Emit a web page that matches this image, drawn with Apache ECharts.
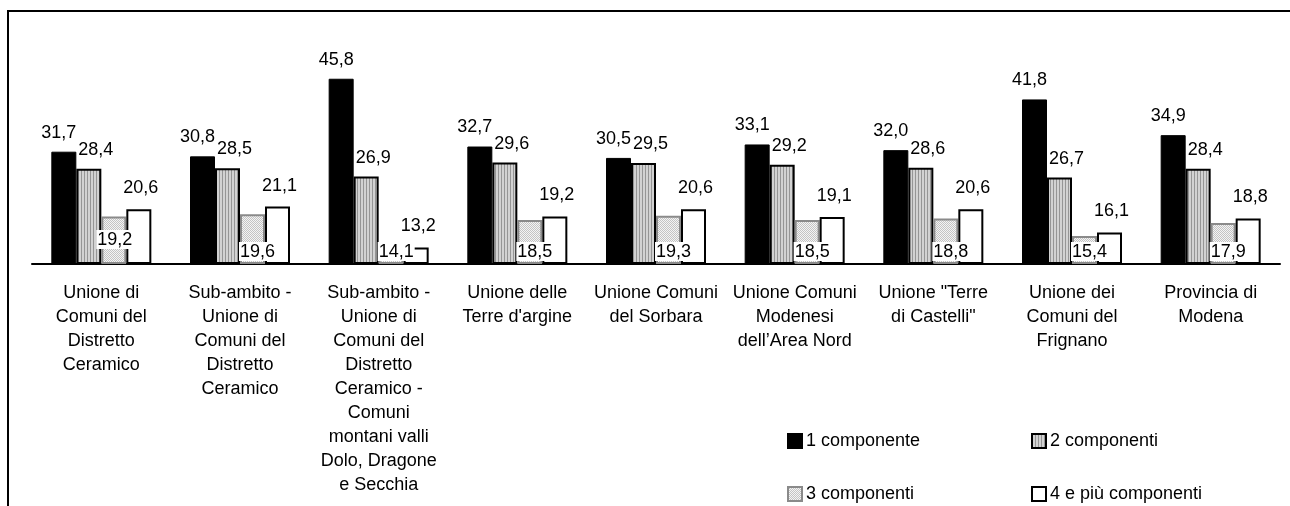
<!DOCTYPE html>
<html>
<head>
<meta charset="utf-8">
<script src="https://cdn.jsdelivr.net/npm/echarts@6/dist/echarts.min.js"></script>
<style>
    html, body { margin: 0; padding: 0; background: #fff; }
    #wrap { position: relative; width: 1290px; height: 506px; overflow: hidden; }
    #main { position: absolute; left: 0; top: 0; width: 1290px; height: 506px; }
    #frame { position: absolute; left: 7px; top: 10px; width: 1300px; height: 520px;
             border-left: 2px solid #000; border-top: 2px solid #000; pointer-events: none; }
</style>
</head>
<body>
<div id="wrap">
    <div id="main"></div>
    <div id="frame"></div>
</div>
<script>
// categorie (a capo come nell'originale)
var categorie = [
    'Unione di\nComuni del\nDistretto\nCeramico',
    'Sub-ambito -\nUnione di\nComuni del\nDistretto\nCeramico',
    'Sub-ambito -\nUnione di\nComuni del\nDistretto\nCeramico -\nComuni\nmontani valli\nDolo, Dragone\ne Secchia',
    'Unione delle\nTerre d\'argine',
    'Unione Comuni\ndel Sorbara',
    'Unione Comuni\nModenesi\ndell\u2019Area Nord',
    'Unione "Terre\ndi Castelli"',
    'Unione dei\nComuni del\nFrignano',
    'Provincia di\nModena'
];
var nomiSerie = ['1 componente', '2 componenti', '3 componenti', '4 e più componenti'];
var unoComp     = [31.7, 30.8, 45.8, 32.7, 30.5, 33.1, 32.0, 41.8, 34.9];
var dueComp     = [28.4, 28.5, 26.9, 29.6, 29.5, 29.2, 28.6, 26.7, 28.4];
var treComp     = [19.2, 19.6, 14.1, 18.5, 19.3, 18.5, 18.8, 15.4, 17.9];
var quattroComp = [20.6, 21.1, 13.2, 19.2, 20.6, 19.1, 20.6, 16.1, 18.8];

var FONT = "'Liberation Sans', Arial, sans-serif";
var FS = 18;

/* trame: righe verticali e puntinato */
function makePattern(w, h, draw)
{
    var c = document.createElement('canvas');
    c.width = w;
    c.height = h;
    var ctx = c.getContext('2d');
    draw(ctx);
    return { image: c, repeat: 'repeat' };
}
var righe = makePattern(3, 1, function (ctx) {
    ctx.fillStyle = '#d2d2d2'; ctx.fillRect(0, 0, 3, 1);
    ctx.fillStyle = '#959595'; ctx.fillRect(0, 0, 1, 1);
});
var puntini = makePattern(2, 2, function (ctx) {
    ctx.fillStyle = '#f4f4f4'; ctx.fillRect(0, 0, 2, 2);
    ctx.fillStyle = '#c4c4c4'; ctx.fillRect(0, 0, 1, 1); ctx.fillRect(1, 1, 1, 1);
});

function fmt(p)
{
    return p.value.toFixed(1).replace('.', ',');
}

var myChart = echarts.init(document.getElementById('main'), null, { renderer: 'canvas' });

function labelTop(dx, dist)
{
    return {
        show: true, position: 'top', distance: dist, offset: [dx, 0],
        formatter: fmt, color: '#000', fontSize: FS, fontFamily: FONT
    };
}

// la prima etichetta della terza serie sta un po' piu' in alto
var treData = treComp.map(function (v, i) {
    if (i === 0) return { value: v, label: { offset: [1, -12] } };
    return v;
});

function legenda(nome, left, top)
{
    return {
        data: [nome], left: left, top: top, itemWidth: 14, itemHeight: 14, itemGap: 4,
        icon: 'rect', selectedMode: false,
        textStyle: { color: '#000', fontSize: FS, fontFamily: FONT, padding: [0, 0, 0, -1] }
    };
}

myChart.setOption({
    animation: false,
    backgroundColor: '#fff',
    textStyle: { fontFamily: FONT },
    grid: { left: 32, right: 10, top: 57, height: 207, containLabel: false },
    legend: [
        legenda(nomiSerie[0], 782, 427),
        legenda(nomiSerie[1], 1026, 427),
        legenda(nomiSerie[2], 782, 480),
        legenda(nomiSerie[3], 1026, 480)
    ],
    xAxis: {
        type: 'category',
        data: categorie,
        axisLine: { lineStyle: { color: '#000', width: 2 } },
        axisTick: { length: 7, lineStyle: { color: '#000', width: 2 } },
        axisLabel: { color: '#000', fontSize: FS, fontFamily: FONT, lineHeight: 24, margin: 17, interval: 0, align: 'center' }
    },
    yAxis: {
        type: 'value', min: 10, max: 50, startValue: 10, show: false,
        splitLine: { show: false }
    },
    series: [
        {
            name: nomiSerie[0], type: 'bar', barWidth: 25, barGap: '0%',
            itemStyle: { color: '#000', borderColor: '#000', borderWidth: 1 },
            label: labelTop(-5, 10),
            data: unoComp
        },
        {
            name: nomiSerie[1], type: 'bar', barWidth: 25,
            itemStyle: { color: righe, borderColor: '#000', borderWidth: 2 },
            label: labelTop(7, 10),
            data: dueComp
        },
        {
            name: nomiSerie[2], type: 'bar', barWidth: 25,
            itemStyle: { color: puntini, borderColor: '#8a8a8a', borderWidth: 2 },
            label: {
                show: true, position: 'insideBottom', distance: 3, offset: [5, 0],
                formatter: fmt, color: '#000', fontSize: FS, fontFamily: FONT,
                backgroundColor: '#fff', padding: [1, 1, 0, 1]
            },
            data: treData
        },
        {
            name: nomiSerie[3], type: 'bar', barWidth: 25,
            itemStyle: { color: '#fff', borderColor: '#000', borderWidth: 2 },
            label: labelTop(2, 12),
            data: quattroComp
        }
    ]
});
</script>
</body>
</html>
